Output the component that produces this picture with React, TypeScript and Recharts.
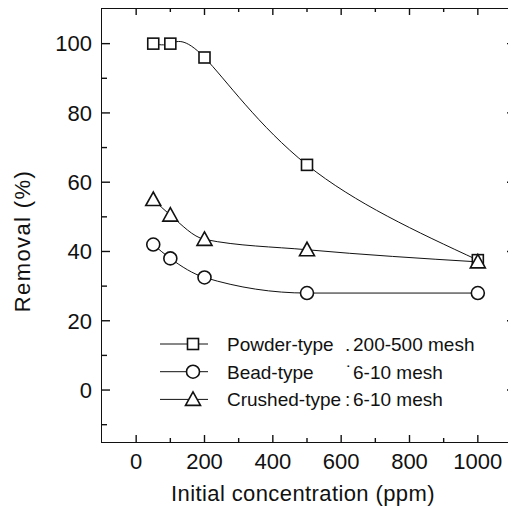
import React from "react";
import { Label, Legend, Line, LineChart, XAxis, YAxis } from "recharts";

const concentrations = [50, 100, 200, 500, 1000];
const powderRemoval = [100, 100, 96, 65, 37.5];
const beadRemoval = [42, 38, 32.5, 28, 28];
const crushedRemoval = [55, 50.5, 43.5, 40.5, 37];

const xTicks = [0, 200, 400, 600, 800, 1000];
const xMinorTicks = [100, 300, 500, 700, 900];
const yTicks = [0, 20, 40, 60, 80, 100];
const yMinorTicks = [-10, 10, 30, 50, 70, 90];

const legendNames = ["Powder-type", "Bead-type", "Crushed-type"];
const legendSeparators = [".", "˙", ":"];
const legendMesh = ["200-500 mesh", "6-10 mesh", "6-10 mesh"];

const INK = "#111";
const FONT = '"Liberation Sans", Arial, Helvetica, sans-serif';
const X_DOMAIN: [number, number] = [-100, 1100];
const Y_DOMAIN: [number, number] = [-15, 110];

const CHART_W = 508;
const CHART_H = 500;
const MARGIN = { top: 1, right: 4, bottom: 0, left: 0 };
const YAXIS_W = 94;
const XAXIS_H = 66;
const PLOT_W = CHART_W - YAXIS_W - MARGIN.right;
const PLOT_H = CHART_H - XAXIS_H - MARGIN.top;
const X_TICK_GAP = 11;
const Y_TICK_GAP = 10;
const FRAME_W = 1.8;

const data = concentrations.map((conc, i) => ({
  conc,
  powder: powderRemoval[i],
  bead: beadRemoval[i],
  crushed: crushedRemoval[i],
}));

const allXTicks = [...xTicks, ...xMinorTicks].sort((a, b) => a - b);
const allYTicks = [...yTicks, ...yMinorTicks].sort((a, b) => a - b);

type Shape = "square" | "circle" | "triangle";
const shapes: Shape[] = ["square", "circle", "triangle"];

function marker(shape: Shape, cx: number, cy: number, key?: string) {
  const common = { fill: "#fff", stroke: INK, strokeWidth: 1.6 };
  if (shape === "square") {
    return <rect key={key} x={cx - 5.5} y={cy - 5.5} width={11} height={11} {...common} />;
  }
  if (shape === "circle") {
    return <circle key={key} cx={cx} cy={cy} r={6.5} {...common} />;
  }
  return (
    <polygon
      key={key}
      points={`${cx},${cy - 7.5} ${cx - 7.5},${cy + 6} ${cx + 7.5},${cy + 6}`}
      {...common}
      strokeLinejoin="miter"
    />
  );
}

const dotFor = (shape: Shape) => (props: any) =>
  marker(shape, props.cx, props.cy, `${shape}-${props.index}`);

// tick = label (majors only) + inward marks on both opposite edges
function XTick(props: any) {
  const { x, y, payload } = props;
  const major = xTicks.includes(payload.value);
  const axisY = y - X_TICK_GAP;
  const topY = MARGIN.top;
  return (
    <g>
      <line x1={x} x2={x} y1={axisY} y2={axisY - (major ? 7 : 4)} stroke={INK} strokeWidth={1.4} />
      <line x1={x} x2={x} y1={topY} y2={topY + (major ? 6 : 3)} stroke={INK} strokeWidth={1.4} />
      {major && (
        <text x={x} y={y} dy="0.71em" textAnchor="middle" fontSize={22} fill={INK} fontFamily={FONT}>
          {payload.value}
        </text>
      )}
    </g>
  );
}

function YTick(props: any) {
  const { x, y, payload } = props;
  const major = yTicks.includes(payload.value);
  const axisX = x + Y_TICK_GAP;
  const rightX = axisX + PLOT_W;
  return (
    <g>
      <line x1={axisX} x2={axisX + (major ? 8 : 5)} y1={y} y2={y} stroke={INK} strokeWidth={1.4} />
      <line x1={rightX} x2={rightX - (major ? 5 : 4)} y1={y} y2={y} stroke={INK} strokeWidth={1.4} />
      {major && (
        <text x={x} y={y} dy="0.355em" textAnchor="end" fontSize={22} fill={INK} fontFamily={FONT}>
          {payload.value}
        </text>
      )}
    </g>
  );
}

function LegendBox() {
  return (
    <svg width={340} height={95} style={{ display: "block", overflow: "visible" }}>
      {legendNames.map((name, i) => {
        const y = 14 + i * 27.7;
        return (
          <g key={name}>
            <line x1={2} x2={50} y1={y} y2={y} stroke={INK} strokeWidth={1} />
            {marker(shapes[i], 35, y)}
            <text x={69} y={y + 7} fontSize={19} fill={INK} fontFamily={FONT}>
              {name}
            </text>
            <text x={i === 1 ? 188 : 187} y={y + 7} fontSize={19} fill={INK} fontFamily={FONT}>
              {legendSeparators[i]}
            </text>
            <text x={195} y={y + 7} fontSize={19} fill={INK} fontFamily={FONT}>
              {legendMesh[i]}
            </text>
          </g>
        );
      })}
    </svg>
  );
}

export default function App() {
  return (
    <div style={{ position: "relative", width: CHART_W, height: CHART_H }}>
      <LineChart width={CHART_W} height={CHART_H} data={data} margin={MARGIN}>
        <XAxis
          xAxisId="x"
          type="number"
          dataKey="conc"
          domain={X_DOMAIN}
          ticks={allXTicks}
          interval={0}
          allowDataOverflow
          height={XAXIS_H}
          tickSize={0}
          tickMargin={X_TICK_GAP}
          tickLine={false}
          axisLine={false}
          tick={<XTick />}
        >
          <Label
            content={({ viewBox }: any) => (
              <text
                x={viewBox.x + viewBox.width / 2 - 4}
                y={viewBox.y + 59}
                textAnchor="middle"
                fontSize={22}
                letterSpacing={0.4}
                fill={INK}
                fontFamily={FONT}
              >
                Initial concentration (ppm)
              </text>
            )}
          />
        </XAxis>
        <YAxis
          yAxisId="y"
          type="number"
          domain={Y_DOMAIN}
          ticks={allYTicks}
          interval={0}
          allowDataOverflow
          width={YAXIS_W}
          tickSize={0}
          tickMargin={Y_TICK_GAP}
          tickLine={false}
          axisLine={false}
          tick={<YTick />}
        >
          <Label
            content={({ viewBox }: any) => {
              const x = viewBox.x + 22;
              const y = viewBox.y + viewBox.height / 2 + 15.5;
              return (
                <text
                  x={x}
                  y={y}
                  transform={`rotate(-90 ${x} ${y})`}
                  textAnchor="middle"
                  fontSize={22}
                  letterSpacing={1.4}
                  fill={INK}
                  fontFamily={FONT}
                >
                  Removal (%)
                </text>
              );
            }}
          />
        </YAxis>

        <Legend
          verticalAlign="middle"
          layout="horizontal"
          content={() => <LegendBox />}
          wrapperStyle={{ position: "absolute", left: 150, top: 321.5, width: 340, height: 95 }}
        />

        <Line
          xAxisId="x"
          yAxisId="y"
          type="natural"
          dataKey="powder"
          stroke={INK}
          strokeWidth={1}
          dot={dotFor("square")}
          activeDot={false}
          isAnimationActive={false}
        />
        <Line
          xAxisId="x"
          yAxisId="y"
          type="monotone"
          dataKey="bead"
          stroke={INK}
          strokeWidth={1}
          dot={dotFor("circle")}
          activeDot={false}
          isAnimationActive={false}
        />
        <Line
          xAxisId="x"
          yAxisId="y"
          type="monotone"
          dataKey="crushed"
          stroke={INK}
          strokeWidth={1}
          dot={dotFor("triangle")}
          activeDot={false}
          isAnimationActive={false}
        />
      </LineChart>
      {/* plot frame */}
      <div
        style={{
          position: "absolute",
          left: YAXIS_W - FRAME_W / 2,
          top: MARGIN.top - FRAME_W / 2,
          width: PLOT_W + FRAME_W,
          height: PLOT_H + FRAME_W,
          border: `${FRAME_W}px solid ${INK}`,
          boxSizing: "border-box",
          pointerEvents: "none",
        }}
      />
    </div>
  );
}
